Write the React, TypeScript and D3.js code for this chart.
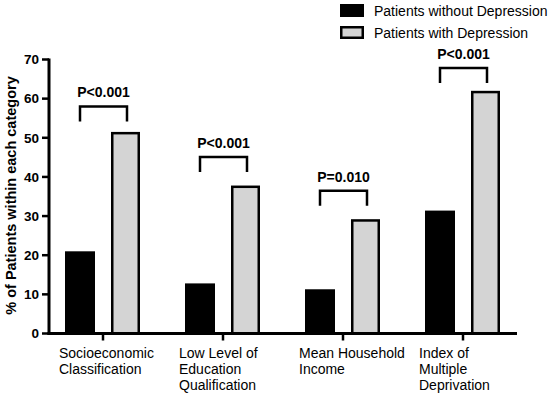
import { useMemo } from "react";
import { scaleLinear, scaleBand } from "d3";

const categories = [
  ["Socioeconomic", "Classification"],
  ["Low Level of", "Education", "Qualification"],
  ["Mean Household", "Income"],
  ["Index of", "Multiple", "Deprivation"],
];
const withoutDepression = [21, 12.8, 11.3, 31.4];
const withDepression = [51.5, 37.8, 29.2, 62];
const pLabels = ["P<0.001", "P<0.001", "P=0.010", "P<0.001"];
const bracketLevels = [58, 45.1, 36.5, 67.8];
const yTicks = [0, 10, 20, 30, 40, 50, 60, 70];
const seriesNames = ["Patients without Depression", "Patients with Depression"];
const seriesFill = ["#000000", "#d4d4d4"];

const width = 550;
const height = 398;
const margin = { top: 59.5, right: 33, bottom: 64.5, left: 49 };
const font = "Arial, 'Liberation Sans', Helvetica, sans-serif";

const App = () => {
  const innerWidth = width - margin.left - margin.right;
  const innerHeight = height - margin.top - margin.bottom;

  const xScale = useMemo(
    () =>
      scaleBand<number>()
        .domain(categories.map((_, i) => i))
        .range([0, innerWidth])
        .paddingOuter(-0.05),
    [innerWidth]
  );
  const yScale = useMemo(
    () => scaleLinear().domain([0, 70]).range([innerHeight, 0]),
    [innerHeight]
  );
  const bw = xScale.bandwidth();
  const center = (i: number) => (xScale(i) as number) + bw / 2;
  const barW = 29;
  const blackX = (i: number) => center(i) - 38;
  const grayX = (i: number) => center(i) + 8;

  return (
    <svg
      width={width}
      height={height}
      style={{ position: "absolute", left: 0, top: 0, background: "#fff" }}
    >
      <g transform={`translate(${margin.left},${margin.top})`} fontFamily={font}>
        {/* bars */}
        {withoutDepression.map((v, i) => (
          <rect
            key={"b" + i}
            x={blackX(i)}
            y={yScale(v)}
            width={barW + 1}
            height={innerHeight - yScale(v)}
            fill={seriesFill[0]}
          />
        ))}
        {withDepression.map((v, i) => (
          <rect
            key={"g" + i}
            x={grayX(i) + 1.25}
            y={yScale(v) + 1.25}
            width={barW - 2.5}
            height={innerHeight - yScale(v) - 1.25}
            fill={seriesFill[1]}
            stroke="#000"
            strokeWidth={2.5}
          />
        ))}

        {/* significance brackets */}
        {bracketLevels.map((lvl, i) => {
          const x1 = blackX(i) + 15;
          const x2 = grayX(i) + 16;
          const y = yScale(lvl);
          return (
            <g key={"p" + i}>
              <path
                d={`M${x1},${y + 15}V${y}H${x2}V${y + 15}`}
                fill="none"
                stroke="#000"
                strokeWidth={2.5}
              />
              <text
                x={(x1 + x2) / 2}
                y={y - 9}
                textAnchor="middle"
                fontSize={14}
                fontWeight="bold"
              >
                {pLabels[i]}
              </text>
            </g>
          );
        })}

        {/* y axis */}
        <line x1={0} x2={0} y1={-1} y2={innerHeight + 1.5} stroke="#000" strokeWidth={3} />
        {yTicks.map((t) => (
          <g key={"t" + t} transform={`translate(0,${yScale(t)})`}>
            <line x1={-7} x2={0} stroke="#000" strokeWidth={2.5} />
            <text x={-10} dy="0.35em" textAnchor="end" fontSize={13.5} fontWeight="bold">
              {t}
            </text>
          </g>
        ))}
        <text
          transform={`translate(${-33},${innerHeight / 2 - 1}) rotate(-90)`}
          textAnchor="middle"
          fontSize={14.5}
          fontWeight="bold"
        >
          % of Patients within each category
        </text>

        {/* x axis */}
        <line x1={-1.5} x2={innerWidth} y1={innerHeight} y2={innerHeight} stroke="#000" strokeWidth={3} />
        {categories.map((lines, i) => (
          <g key={"c" + i} transform={`translate(${center(i)},${innerHeight})`}>
            <line y1={0} y2={7} stroke="#000" strokeWidth={2.5} />
            <text fontSize={14} x={-44}>
              {lines.map((l, j) => (
                <tspan key={j} x={-44} y={24 + j * 16}>
                  {l}
                </tspan>
              ))}
            </text>
          </g>
        ))}
      </g>

      {/* legend */}
      <g fontFamily={font}>
        {seriesNames.map((name, i) => (
          <g key={name} transform={`translate(340,${4 + i * 22})`}>
            <rect
              x={1.25}
              y={1.25}
              width={21.5}
              height={10.5}
              fill={seriesFill[i]}
              stroke="#000"
              strokeWidth={2.5}
            />
            <text x={34} y={11.5} fontSize={14}>
              {name}
            </text>
          </g>
        ))}
      </g>
    </svg>
  );
};

export default App;
